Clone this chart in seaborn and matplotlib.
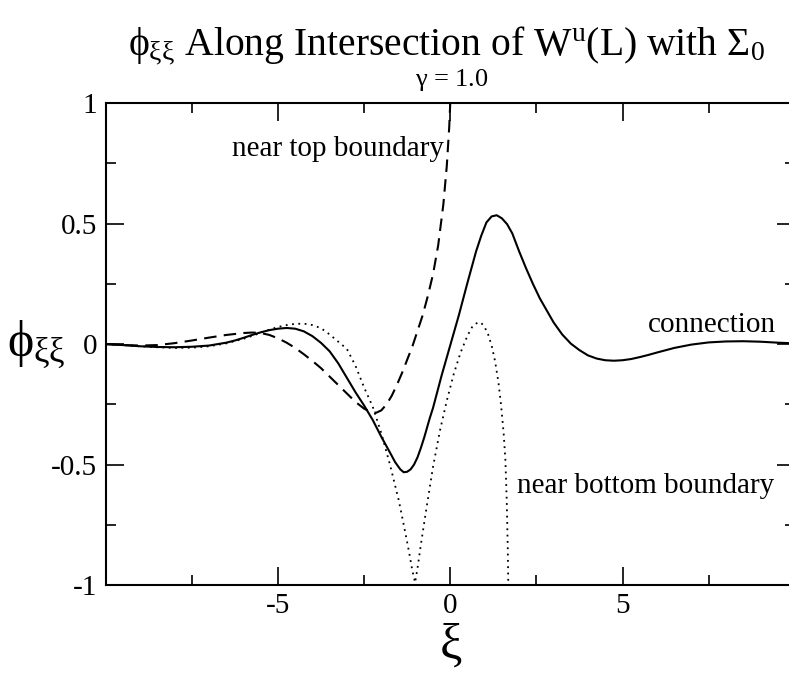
import matplotlib
matplotlib.use("Agg")
import matplotlib.pyplot as plt
import seaborn as sns
import pandas as pd

# ---- data ----
xi_conn = [-10, -9.5, -9, -8.5, -8, -7.5, -7, -6.5, -6.25, -6, -5.75, -5.5, -5.25, -5, -4.75,
           -4.5, -4.25, -4, -3.75, -3.5, -3.25, -3, -2.75, -2.5, -2.25, -2, -1.75, -1.6,
           -1.45, -1.35, -1.25, -1.15, -1.05, -0.95, -0.85, -0.75, -0.6, -0.5, -0.25, 0,
           0.25, 0.5, 0.75, 0.9, 1.05, 1.2, 1.35, 1.5, 1.65, 1.8, 2.0, 2.2, 2.4, 2.6, 2.8,
           3.0, 3.25, 3.5, 3.75, 4.0, 4.25, 4.5, 4.75, 5.0, 5.25, 5.5, 5.75, 6.0, 6.5, 7.0,
           7.5, 8.0, 8.5, 9.0, 9.5, 10]
phi_conn = [0.0, -0.004, -0.009, -0.012, -0.013, -0.011, -0.006, 0.006, 0.015, 0.026, 0.038,
            0.049, 0.058, 0.064, 0.067, 0.064, 0.053, 0.033, 0.005, -0.03, -0.08, -0.14,
            -0.2, -0.255, -0.315, -0.385, -0.45, -0.49, -0.52, -0.532, -0.53, -0.52, -0.5,
            -0.47, -0.43, -0.385, -0.31, -0.265, -0.13, -0.005, 0.12, 0.255, 0.385, 0.45,
            0.505, 0.53, 0.535, 0.522, 0.498, 0.46, 0.385, 0.315, 0.25, 0.19, 0.14, 0.09,
            0.04, 0.002, -0.025, -0.047, -0.06, -0.067, -0.069, -0.067, -0.062, -0.054,
            -0.045, -0.035, -0.016, -0.002, 0.007, 0.011, 0.012, 0.01, 0.006, 0.003]

xi_top = [-10, -9.5, -9, -8.5, -8, -7.5, -7, -6.5, -6, -5.75, -5.5, -5.25, -5, -4.75, -4.5,
          -4.25, -4, -3.75, -3.5, -3.25, -3, -2.75, -2.5, -2.3, -2.15, -2.0, -1.85, -1.7,
          -1.55, -1.4, -1.25, -1.1, -0.95, -0.8, -0.65, -0.5, -0.35, -0.2, -0.1, -0.03,
          0.0, 0.02]
phi_top = [0.0, -0.004, -0.006, -0.004, 0.004, 0.015, 0.027, 0.038, 0.046, 0.048, 0.046,
           0.038, 0.024, 0.006, -0.016, -0.042, -0.07, -0.1, -0.135, -0.17, -0.205, -0.24,
           -0.268, -0.282, -0.285, -0.275, -0.25, -0.215, -0.17, -0.12, -0.065, -0.01,
           0.055, 0.12, 0.2, 0.29, 0.41, 0.58, 0.74, 0.9, 1.0, 1.08]

xi_bot = [-10, -9.5, -9, -8.5, -8, -7.5, -7, -6.5, -6, -5.75, -5.5, -5.25, -5, -4.75, -4.5,
          -4.25, -4, -3.75, -3.5, -3.25, -3.0, -2.75, -2.5, -2.25, -2.0, -1.75, -1.5, -1.35,
          -1.2, -1.1, -1.02, -0.95, -0.85, -0.7, -0.5, -0.3, -0.1, 0.1, 0.3, 0.5, 0.65,
          0.8, 0.9, 1.0, 1.1, 1.2, 1.3, 1.4, 1.48, 1.55, 1.6, 1.64, 1.67, 1.69]
phi_bot = [0.0, -0.004, -0.009, -0.013, -0.016, -0.015, -0.009, 0.003, 0.022, 0.034, 0.047,
           0.06, 0.071, 0.079, 0.084, 0.085, 0.079, 0.066, 0.04, 0.01, -0.02, -0.09, -0.18,
           -0.26, -0.37, -0.5, -0.645, -0.75, -0.86, -0.94, -0.99, -0.93, -0.83, -0.69,
           -0.51, -0.36, -0.235, -0.125, -0.035, 0.035, 0.075, 0.09, 0.088, 0.07, 0.04,
           -0.005, -0.07, -0.16, -0.26, -0.37, -0.48, -0.65, -0.85, -1.05]

x_major = [-5, 0, 5]
x_minor = [-7.5, -2.5, 2.5, 7.5]
y_major = [1, 0.5, 0, -0.5, -1]
y_major_labels = ["1", "0.5", "0", "-0.5", "-1"]
y_minor = [0.75, 0.25, -0.25, -0.75]

# ---- style ----
sns.set_theme(style="ticks")
plt.rcParams["font.family"] = ["Liberation Serif", "DejaVu Serif"]
plt.rcParams["mathtext.fontset"] = "custom"
plt.rcParams["mathtext.rm"] = "Liberation Serif"
plt.rcParams["mathtext.it"] = "Liberation Serif"
plt.rcParams["mathtext.bf"] = "Liberation Serif:bold"
for k in ["text.color", "axes.labelcolor", "xtick.color", "ytick.color", "axes.edgecolor"]:
    plt.rcParams[k] = "black"

fig = plt.figure(figsize=(7.89, 6.73), dpi=100)
ax = fig.add_axes([0.134, 0.1308, 0.8733, 0.7158])

df_c = pd.DataFrame({"xi": xi_conn, "phi": phi_conn})
df_t = pd.DataFrame({"xi": xi_top, "phi": phi_top})
df_b = pd.DataFrame({"xi": xi_bot, "phi": phi_bot})

sns.lineplot(data=df_c, x="xi", y="phi", ax=ax, color="black", lw=1.5, sort=False)
sns.lineplot(data=df_t, x="xi", y="phi", ax=ax, color="black", lw=1.5, sort=False,
             linestyle=(0, (6, 3.5)))
sns.lineplot(data=df_b, x="xi", y="phi", ax=ax, color="black", lw=1.3, sort=False,
             linestyle=(0, (1, 2.5)))

ax.set_xlim(-10, 10)
ax.set_ylim(-1, 1)
ax.set_xticks(x_major)
ax.set_xticklabels([str(v) for v in x_major])
ax.set_xticks(x_minor, minor=True)
ax.set_yticks(y_major)
ax.set_yticklabels(y_major_labels)
ax.set_yticks(y_minor, minor=True)
ax.tick_params(which="both", direction="in", top=True, right=True, color="black",
               labelcolor="black", labelsize=21, width=1.2, pad=6)
ax.tick_params(which="major", length=13)
ax.tick_params(which="minor", length=7)
for s in ax.spines.values():
    s.set_visible(True)
    s.set_linewidth(1.5)
    s.set_color("black")

ax.set_xlabel(r"$\xi$", fontsize=36, labelpad=2)
ax.set_ylabel(r"$\phi_{\xi\xi}$", fontsize=36, rotation=0, va="center", ha="center")
ax.yaxis.set_label_coords(-0.1, 0.5)

ax.text(-6.33, 0.808, "near top boundary", fontsize=21, va="center", ha="left")
ax.text(1.93, -0.59, "near bottom boundary", fontsize=21, va="center", ha="left")
ax.text(5.75, 0.081, "connection", fontsize=21, va="center", ha="left")

fig.text(446 / 789, 1 - 55 / 673,
         r"$\phi_{\xi\xi}$ Along Intersection of W$^{\rm u}$(L) with $\Sigma_0$",
         fontsize=28.5, ha="center", va="baseline")
fig.text(452 / 789, 1 - 86 / 673, r"$\gamma$ = 1.0", fontsize=19, ha="center",
         va="baseline")

fig.savefig("out.png", dpi=100)
